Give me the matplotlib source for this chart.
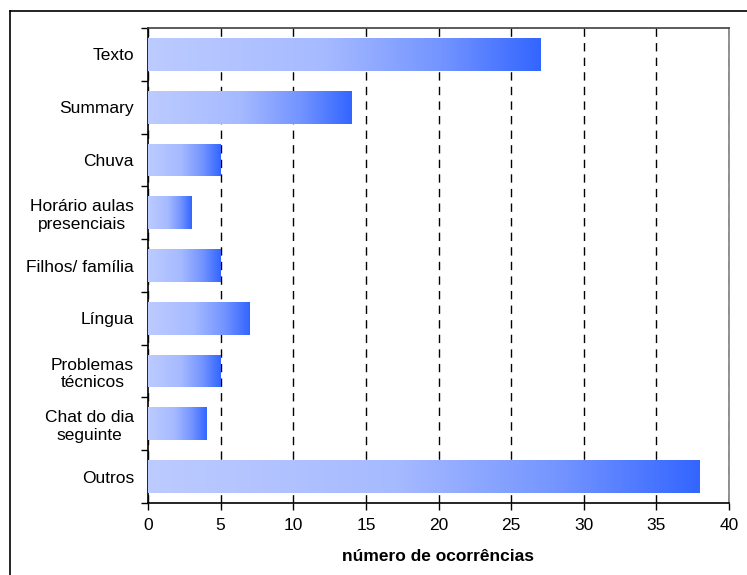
import numpy as np
import matplotlib
matplotlib.use("Agg")
import matplotlib.pyplot as plt
from matplotlib.colors import LinearSegmentedColormap
from matplotlib.lines import Line2D

# === DATA ===
categories = ["Texto", "Summary", "Chuva", "Horário aulas\npresenciais",
              "Filhos/ família", "Língua", "Problemas\ntécnicos",
              "Chat do dia\nseguinte", "Outros"]
counts = [27, 14, 5, 3, 5, 7, 5, 4, 38]
x_ticks = [0, 5, 10, 15, 20, 25, 30, 35, 40]
x_label = "número de ocorrências"

plt.rcParams['font.family'] = ['Liberation Sans', 'DejaVu Sans']
plt.rcParams['font.size'] = 12.5

fig = plt.figure(figsize=(7.47, 5.75), dpi=100)
ax = fig.add_axes([148 / 747, 1 - 503 / 575, (729 - 148) / 747, (503 - 28) / 575])

# outer frame (right/bottom edges fall outside the image)
fig.add_artist(Line2D([10 / 747, 1.0], [1 - 11 / 575] * 2, color='black', lw=1.2,
                      transform=fig.transFigure))
fig.add_artist(Line2D([10 / 747] * 2, [0.0, 1 - 11 / 575], color='black', lw=1.2,
                      transform=fig.transFigure))

cmap = LinearSegmentedColormap.from_list(
    "bar", [(0.0, "#bccbff"), (0.45, "#a6baff"), (0.75, "#7394ff"), (1.0, "#3366ff")])
grad = np.linspace(0, 1, 256).reshape(1, -1)

ypos = np.arange(len(categories))
bars = ax.barh(ypos, counts, height=0.62, color='none', edgecolor='none', zorder=3)
for b in bars:
    x0, y0 = b.get_x(), b.get_y()
    im = ax.imshow(grad, cmap=cmap, aspect='auto', zorder=3,
                   extent=[x0, x0 + b.get_width(), y0, y0 + b.get_height()])
    im.set_clip_path(b)

ax.set_xlim(0, 40)
ax.set_ylim(len(categories) - 0.5, -0.5)
ax.set_xticks(x_ticks)
ax.set_yticks(ypos)
ax.set_yticklabels(categories, multialignment='center')
ax.set_yticks(np.arange(-0.5, len(categories)), minor=True)
ax.tick_params(axis='y', which='major', length=0, pad=10)
ax.tick_params(axis='y', which='minor', length=5, direction='out', width=1)
ax.tick_params(axis='x', length=5, direction='out', width=1, pad=6)

ax.xaxis.grid(True, linestyle=(0, (6, 4.5)), color='black', lw=1)
ax.set_axisbelow(True)

ax.spines['left'].set_color('black')
ax.spines['bottom'].set_color('black')
ax.spines['top'].set_color('#404040')
ax.spines['right'].set_color('#808080')
for s in ax.spines.values():
    s.set_linewidth(1.2)

ax.set_xlabel(x_label, fontweight='bold', labelpad=11)

fig.savefig("out.png", dpi=100)
